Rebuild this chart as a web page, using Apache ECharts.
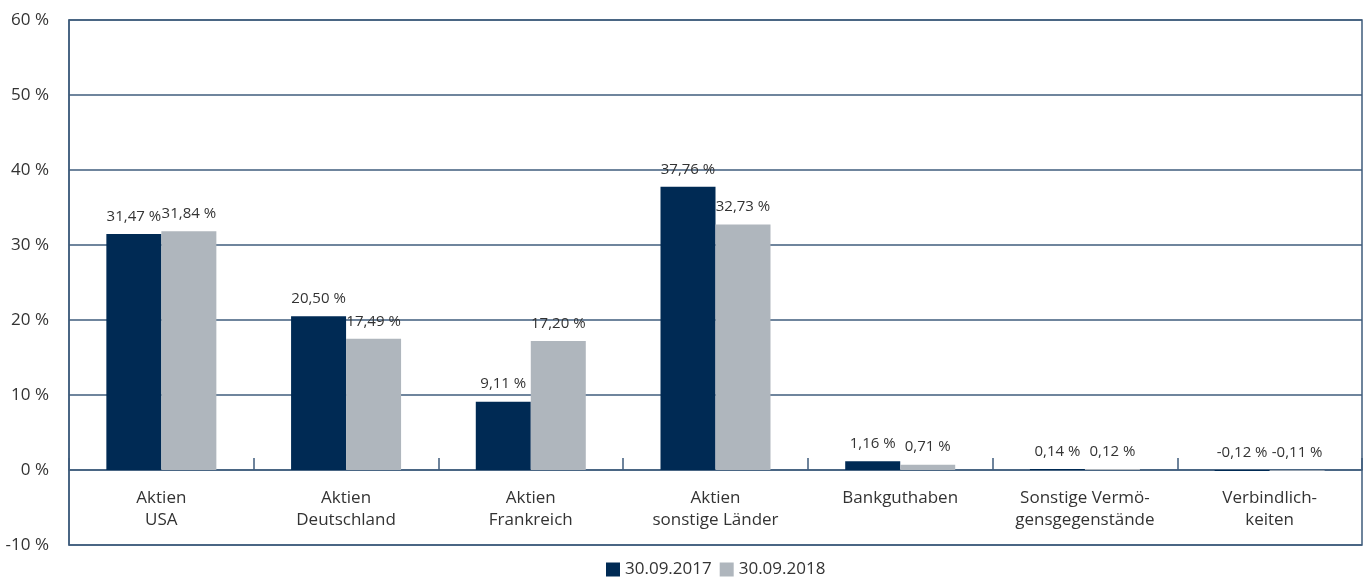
<!DOCTYPE html>
<html><head><meta charset="utf-8">
<script src="https://cdn.jsdelivr.net/npm/echarts@6/dist/echarts.min.js"></script>
<style>html,body{margin:0;padding:0;background:#fff}#c{width:1366px;height:583px}</style>
</head><body><div id="c"></div>
<script>
const categories = ["Aktien\nUSA","Aktien\nDeutschland","Aktien\nFrankreich","Aktien\nsonstige Länder","Bankguthaben","Sonstige Vermö-\ngensgegenstände","Verbindlich-\nkeiten"];
const series2017 = [31.47, 20.50, 9.11, 37.76, 1.16, 0.14, -0.12];
const series2018 = [31.84, 17.49, 17.20, 32.73, 0.71, 0.12, -0.11];
const seriesNames = ["30.09.2017","30.09.2018"];
const yTicks = [-10,0,10,20,30,40,50,60];

const FONT = "'Open Sans', sans-serif";
const LINE = '#3f5c7c';
const fmt = v => v.toFixed(2).replace('.', ',') + ' %';
const chart = echarts.init(document.getElementById('c'), null, {renderer:'canvas'});
const lbl = {show:true, position:'top', distance:10, color:'#333', fontFamily:FONT, fontSize:15,
  formatter: p => fmt(p.value)};
chart.setOption({
  animation:false,
  textStyle:{fontFamily:FONT},
  grid:{left:69, right:4, top:20, bottom:38, show:true, borderColor:LINE, borderWidth:1.5, outerBoundsMode:'none', containLabel:false},
  legend:{bottom:0, left:601, itemWidth:14, itemHeight:14, itemGap:8, icon:'rect',
    textStyle:{fontSize:17, color:'#333', fontFamily:FONT}, data:seriesNames},
  xAxis:{type:'category', data:categories,
    axisLine:{onZero:true, lineStyle:{color:LINE, width:1.5}},
    axisTick:{show:true, inside:true, length:12, lineStyle:{color:LINE, width:1.5}},
    axisLabel:{color:'#333', fontSize:17, margin:-58, lineHeight:22, fontFamily:FONT}},
  yAxis:{type:'value', min:yTicks[0], max:yTicks[yTicks.length-1], interval:10,
    axisLine:{show:true, lineStyle:{color:LINE, width:1.5}},
    axisTick:{show:false},
    splitLine:{lineStyle:{color:LINE, width:1.5}},
    axisLabel:{color:'#333', fontSize:17, margin:20, fontFamily:FONT, formatter: v => v + ' %'}},
  series:[
    {name:seriesNames[0], type:'bar', data:series2017, barWidth:55, barGap:'0%', itemStyle:{color:'#002a54'}, label:lbl},
    {name:seriesNames[1], type:'bar', data:series2018, barWidth:55, itemStyle:{color:'#afb6bd'}, label:lbl}
  ]
});
</script></body></html>
